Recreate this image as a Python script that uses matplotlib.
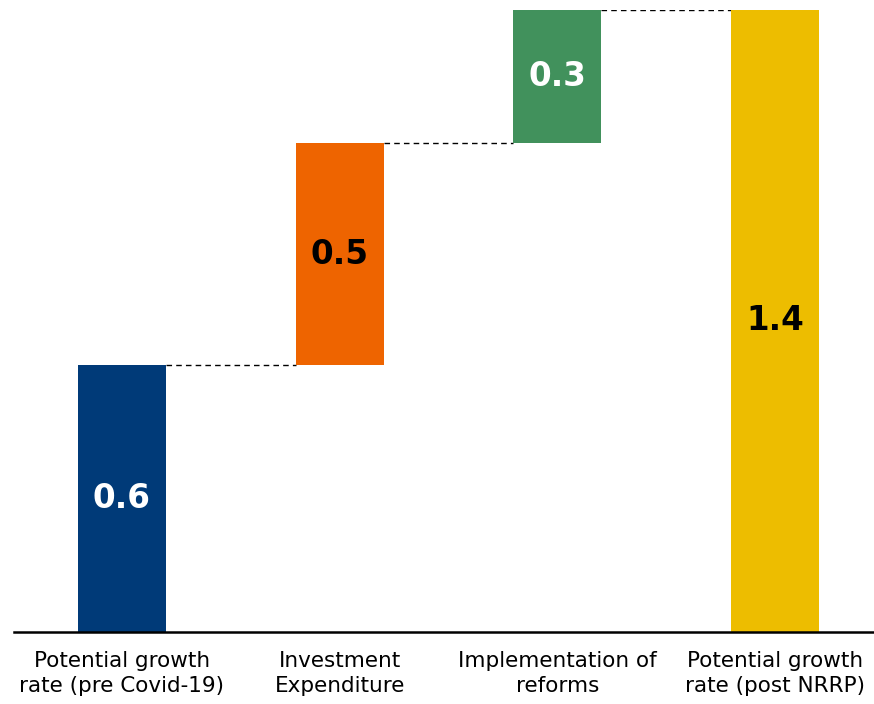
import matplotlib.pyplot as plt
import numpy as np

categories = [
    "Potential growth\nrate (pre Covid-19)",
    "Investment\nExpenditure",
    "Implementation of\nreforms",
    "Potential growth\nrate (post NRRP)",
]
steps = [0.6, 0.5, 0.3]
total = 1.4
colors = ["#003a78", "#ee6400", "#41915c", "#edbd00"]
label_colors = ["white", "black", "white", "black"]

plt.rcParams["font.family"] = ["DejaVu Sans"]

fig = plt.figure(figsize=(8.74, 7.04), dpi=100)
ax = fig.add_axes([14 / 874, 72 / 704, 1 - 14 / 874, 622 / 704])

x = np.arange(len(categories))
width = 0.405

# floating bars: each step starts where the previous one ended
bottoms = np.concatenate([[0], np.cumsum(steps)[:-1], [0]])
heights = np.array(steps + [total])
ax.bar(x, heights, width, bottom=bottoms, color=colors, clip_on=False, zorder=2)

# dashed connectors between consecutive bar tops
tops = np.cumsum(steps)
for i, top in enumerate(tops):
    ax.plot([x[i] + width / 2, x[i + 1] - width / 2], [top, top],
            color="black", lw=1, ls=(0, (4, 3)), zorder=1)

for xi, b, h, c in zip(x, bottoms, heights, label_colors):
    ax.text(xi, b + h / 2, f"{h:.1f}", ha="center", va="center",
            color=c, fontsize=23.5, fontweight="bold")

ax.set_xlim(-0.496, 3.455)
ax.set_ylim(0, total)
ax.set_xticks(x)
ax.set_xticklabels(categories, fontsize=15.5, linespacing=1.3)
ax.tick_params(axis="x", length=0, pad=14)
ax.set_yticks([])
for side in ["left", "right", "top"]:
    ax.spines[side].set_visible(False)
ax.spines["bottom"].set_linewidth(1.8)

fig.savefig("out.png", dpi=100)
